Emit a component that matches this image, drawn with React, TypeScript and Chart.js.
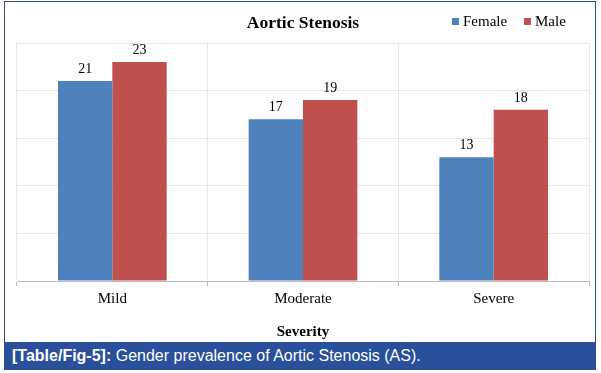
import React, { useEffect, useRef } from "react";
import { Chart, registerables } from "chart.js";

Chart.register(...registerables);

const categories = ["Mild", "Moderate", "Severe"];
const femaleValues = [21, 17, 13];
const maleValues = [23, 19, 18];
const seriesNames = ["Female", "Male"];
const seriesColors = ["#4F81BD", "#C0504D"];
const chartTitle = "Aortic Stenosis";
const xAxisTitle = "Severity";
const captionLabel = "[Table/Fig-5]:";
const captionText = " Gender prevalence of Aortic Stenosis (AS).";

const SERIF = "'Liberation Serif', 'Times New Roman', serif";

const overlayPlugin = {
  id: "overlay",
  afterDatasetsDraw(chart: any) {
    const ctx = chart.ctx;
    ctx.save();
    // value labels
    ctx.fillStyle = "#000";
    ctx.font = `14px ${SERIF}`;
    ctx.textAlign = "center";
    ctx.textBaseline = "alphabetic";
    chart.data.datasets.forEach((ds: any, di: number) => {
      const meta = chart.getDatasetMeta(di);
      meta.data.forEach((bar: any, i: number) => {
        ctx.fillText(String(ds.data[i]), bar.x, bar.y - 8);
      });
    });
    // title
    ctx.font = `bold 17.5px ${SERIF}`;
    ctx.textAlign = "center";
    ctx.textBaseline = "middle";
    const cx = (chart.chartArea.left + chart.chartArea.right) / 2;
    ctx.fillText(chartTitle, cx, 20);
    // legend
    ctx.font = `15px ${SERIF}`;
    ctx.textAlign = "left";
    let x = 446;
    seriesNames.forEach((name, i) => {
      ctx.fillStyle = seriesColors[i];
      ctx.fillRect(x, 15, 7, 7);
      ctx.fillStyle = "#000";
      ctx.fillText(name, x + 11, 19);
      x += 72;
    });
    ctx.restore();
  },
};

function ChartView() {
  const ref = useRef<HTMLCanvasElement | null>(null);
  useEffect(() => {
    if (!ref.current) return;
    const chart = new Chart(ref.current, {
      type: "bar",
      data: {
        labels: categories,
        datasets: [
          { label: seriesNames[0], data: femaleValues, backgroundColor: seriesColors[0] },
          { label: seriesNames[1], data: maleValues, backgroundColor: seriesColors[1] },
        ],
      },
      options: {
        animation: false,
        responsive: false,
        maintainAspectRatio: false,
        layout: { padding: { left: 11, right: 6, top: 40, bottom: 1 } },
        datasets: { bar: { categoryPercentage: 0.57, barPercentage: 1 } },
        plugins: {
          legend: { display: false },
          title: { display: false },
          tooltip: { enabled: false },
        },
        scales: {
          x: {
            grid: { color: "#ebe7df", tickColor: "#bdbdbd", tickLength: 5, offset: true },
            border: { color: "#bdbdbd" },
            ticks: { color: "#000", font: { family: SERIF, size: 15 }, padding: 4 },
            title: {
              display: true,
              text: xAxisTitle,
              color: "#000",
              font: { family: SERIF, size: 15, weight: "bold" },
              padding: { top: 11, bottom: 0 },
            },
          },
          y: {
            min: 0,
            max: 25,
            ticks: { display: false, stepSize: 5 },
            grid: { color: "#ebe7df", drawTicks: false },
            border: { display: false },
          },
        },
      },
      plugins: [overlayPlugin],
    });
    return () => chart.destroy();
  }, []);
  return <canvas ref={ref} width={589} height={339} style={{ display: "block" }} />;
}

export default function App() {
  return (
    <div style={{ position: "absolute", left: 0, top: 0, width: 601, height: 373, background: "#fff" }}>
      <div
        style={{
          position: "absolute",
          left: 4,
          top: 1,
          width: 592,
          height: 342,
          boxSizing: "border-box",
          border: "1.5px solid #2d4f7a",
          borderBottom: "none",
        }}
      >
        <div style={{ position: "absolute", left: 0.5, top: 0.5 }}>
          <ChartView />
        </div>
      </div>
      <div
        style={{
          position: "absolute",
          left: 4,
          top: 342,
          width: 592,
          height: 28,
          background: "#2a4f9b",
          color: "#fff",
          fontFamily: "'Liberation Sans', Arial, sans-serif",
          fontSize: 16,
          lineHeight: "28px",
          paddingLeft: 8,
          boxSizing: "border-box",
          whiteSpace: "nowrap",
        }}
      >
        <b>{captionLabel}</b>
        {captionText}
      </div>
    </div>
  );
}
